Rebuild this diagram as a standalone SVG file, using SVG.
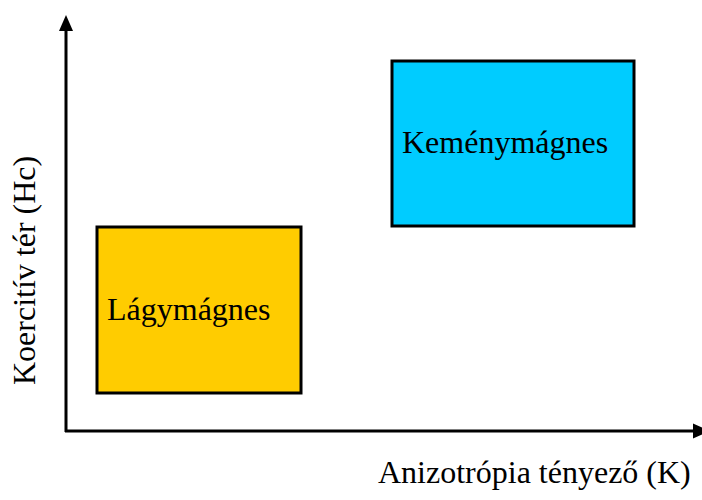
<svg xmlns="http://www.w3.org/2000/svg" width="702" height="500" viewBox="0 0 702 500">
<style>
  .lbl { font-family: "Liberation Serif", "Times New Roman", serif; font-size: 32px; fill: #000; }
  .box { stroke: #000; stroke-width: 3; }
  .axis { stroke: #000; stroke-width: 3; fill: none; }
</style>
<rect width="702" height="500" fill="#fff"/>
<g id="connectors">
  <line class="axis" x1="66" y1="432" x2="66" y2="28"/>
  <polygon points="66,15 73,31 59,31" fill="#000"/>
  <line class="axis" x1="65" y1="431" x2="695" y2="431"/>
  <polygon points="710,431 693,423.5 693,438.5" fill="#000"/>
</g>
<g id="soft">
  <rect class="box" x="97" y="227" width="204" height="166" fill="#FFCC00"/>
  <text class="lbl" x="107" y="320">Lágymágnes</text>
</g>
<g id="hard">
  <rect class="box" x="392" y="61" width="242" height="165" fill="#00CCFF"/>
  <text class="lbl" x="402" y="153">Keménymágnes</text>
</g>
<g id="ylabel">
  <text class="lbl" transform="translate(35,385) rotate(-90)">Koercitív tér (Hc)</text>
</g>
<g id="xlabel">
  <text class="lbl" x="378" y="483">Anizotrópia tényező (K)</text>
</g>
</svg>
